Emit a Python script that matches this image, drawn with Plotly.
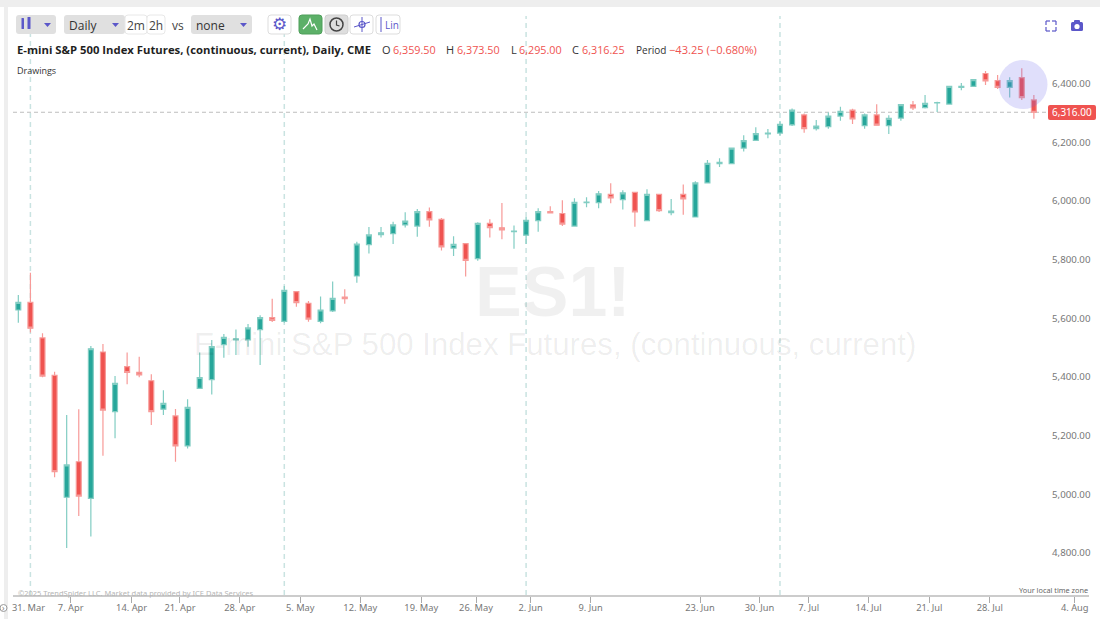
import plotly.graph_objects as go

session = list(range(85))
opens = [5628,5654,5533,5405,4990,5111,4986,5485,5282,5435,5416,5387,5290,5267,5165,5361,5391,5510,5526,5526,5561,5602,5589,
         5691,5651,5589,5625,5672,5744,5851,5885,5888,5918,5914,5963,5937,5839,5854,5803,5923,5908,5895,5883,
         5933,5963,5957,5914,5994,5994,6022,6004,6029,5933,6022,5960,6022,5945,6061,6127,6127,6180,6206,6228,6231,
         6259,6293,6246,6253,6289,6309,6256,6293,6256,6282,6327,6318,6334,6330,6387,6390,6434,6410,6387,6420,6344]
highs = [5679,5755,5549,5418,5270,5290,5505,5512,5403,5483,5469,5409,5355,5291,5324,5483,5526,5546,5562,5580,5610,5666,5710,
         5691,5659,5674,5725,5699,5861,5911,5911,5929,5961,5972,5977,5942,5879,5855,5927,5937,5993,5916,5945,
         5975,5982,6002,6009,6012,6034,6060,6036,6029,6040,6023,6006,6056,6067,6139,6145,6182,6224,6251,6245,6272,
         6315,6298,6276,6301,6321,6314,6298,6329,6292,6330,6340,6361,6338,6391,6402,6415,6443,6429,6421,6452,6361]
lows = [5585,5551,5399,5058,4817,4926,4856,5131,5191,5375,5399,5236,5270,5111,5156,5361,5340,5465,5475,5503,5441,5587,5585,
        5639,5588,5583,5621,5649,5721,5821,5875,5853,5909,5878,5912,5831,5812,5742,5796,5875,5869,5837,5853,
        5895,5959,5914,5914,5978,5975,5992,5971,5912,5933,5962,5951,5953,5945,6060,6115,6127,6168,6205,6213,6223,
        6255,6232,6240,6246,6273,6262,6246,6256,6228,6273,6310,6315,6303,6330,6377,6388,6395,6381,6352,6344,6280]
closes = [5654,5566,5403,5077,5100,4994,5496,5287,5378,5415,5407,5282,5310,5165,5296,5398,5503,5535,5530,5567,5602,5593,5695,
          5653,5597,5628,5668,5667,5853,5884,5891,5918,5931,5963,5935,5843,5852,5797,5923,5909,5901,5897,5934,
          5963,5959,5921,5995,5996,6024,6010,6027,5962,6022,5967,5965,6007,6061,6128,6131,6180,6205,6229,6231,6261,
          6309,6246,6255,6289,6305,6279,6293,6258,6281,6328,6317,6332,6335,6390,6390,6413,6409,6387,6410,6352,6302]

y_ticks = [4800, 5000, 5200, 5400, 5600, 5800, 6000, 6200, 6400]
x_tick_labels = ["7. Apr","14. Apr","21. Apr","28. Apr","5. May","12. May","19. May","26. May",
                 "2. Jun","9. Jun","23. Jun","30. Jun","7. Jul","14. Jul","21. Jul","28. Jul","4. Aug"]
x_tick_sessions = [4.33,9.37,13.37,18.31,23.32,28.29,33.33,37.86,42.37,47.33,56.39,61.31,65.38,70.33,75.35,80.35,87.38]
marker_sessions = [1, 22, 42, 63]

W, H = 1100, 619
PURPLE = "#5b57c9"
RED = "#ef5350"
GREEN = "#26a69a"


def fx(x):
    return x / W


def fy(y):
    return 1 - y / H


shapes = []
annotations = []


def rect(x0, y0, x1, y1, fill, line="rgba(0,0,0,0)", r=3, layer="above"):
    X0, X1, Y0, Y1 = fx(x0), fx(x1), fy(y0), fy(y1)
    rx, ry = r / W, r / H
    p = (f"M{X0+rx},{Y0} L{X1-rx},{Y0} Q{X1},{Y0} {X1},{Y0-ry} L{X1},{Y1+ry} Q{X1},{Y1} {X1-rx},{Y1} "
         f"L{X0+rx},{Y1} Q{X0},{Y1} {X0},{Y1+ry} L{X0},{Y0-ry} Q{X0},{Y0} {X0+rx},{Y0} Z")
    shapes.append(dict(type="path", path=p, xref="paper", yref="paper", fillcolor=fill,
                       line=dict(color=line, width=1), layer=layer))


def poly(points, color=None, stroke=None, width=1.5):
    p = "M" + " L".join(f"{fx(a)},{fy(b)}" for a, b in points)
    if color:
        p += " Z"
    shapes.append(dict(type="path", path=p, xref="paper", yref="paper",
                       fillcolor=color or "rgba(0,0,0,0)",
                       line=dict(color=stroke or "rgba(0,0,0,0)", width=width), layer="above"))


def circle(x, y, r, fill="rgba(0,0,0,0)", stroke="rgba(0,0,0,0)", width=1.5):
    shapes.append(dict(type="circle", xref="paper", yref="paper", x0=fx(x - r), x1=fx(x + r), y0=fy(y + r), y1=fy(y - r),
                       fillcolor=fill, line=dict(color=stroke, width=width), layer="above"))


def text(x, y, s, size=12, color="#333333", anchor="left", family="Open Sans"):
    annotations.append(dict(x=fx(x), y=fy(y), xref="paper", yref="paper", text=s, showarrow=False,
                            xanchor=anchor, yanchor="middle", borderpad=0,
                            font=dict(size=size, color=color, family=family)))


# page frame
rect(0, 0, 1100, 7, "#eeeeee", r=0, layer="below")
rect(4, 7, 8, 619, "#eeeeee", r=0, layer="below")

# month-start markers
for s in marker_sessions:
    shapes.append(dict(type="line", xref="x", yref="paper", x0=s, x1=s, y0=fy(595), y1=fy(16), layer="below",
                       line=dict(color="#c9e3e1", width=1.5, dash="5px,4px")))

# last price line
shapes.append(dict(type="line", xref="paper", yref="y", x0=fx(13), x1=fx(1048), y0=closes[-1], y1=closes[-1],
                   layer="below", line=dict(color="#bdbdbd", width=1, dash="4px,3px")))

# highlight circle
circle(1023, 84.5, 24.5, fill="rgba(98,94,235,0.20)")

# price tag
rect(1048, 105, 1096, 120, RED, r=2)
text(1072, 112.5, "6,316.00", 10, "#ffffff", "center", "Noto Sans")

# toolbar
rect(16, 15, 56, 34, "#e0e0e0")
rect(21.5, 18, 24, 29, PURPLE, r=0.5)
rect(27.5, 17, 30.5, 29, PURPLE, r=0.5)
poly([(44, 23), (51, 23), (47.5, 27)], color=PURPLE)

rect(64, 15, 125, 34, "#e0e0e0")
text(68, 25, "Daily", 12, "#333333")
poly([(112, 23), (119, 23), (115.5, 27)], color=PURPLE)
rect(125, 15, 147, 34, "#ffffff", "#e8e8e8")
text(136, 25, "2m", 12, "#444444", "center")
rect(147, 15, 165, 34, "#ffffff", "#e8e8e8")
text(156, 25, "2h", 12, "#444444", "center")
text(178, 25, "vs", 12, "#444444", "center")
rect(191, 15, 252, 34, "#e0e0e0")
text(195, 25, "none", 12, "#333333")
poly([(240, 23), (247, 23), (243.5, 27)], color=PURPLE)

rect(268, 15, 291, 34, "#ffffff", "#dddddd")
text(279.5, 24, "⚙", 17, PURPLE, "center", "DejaVu Sans")
rect(299, 15, 322, 34, "#5cb068", "#4f9f5b")
poly([(303, 29), (308, 24), (310, 19), (312, 26), (314, 24), (317, 30)], stroke="#ffffff", width=1.2)
rect(325, 15, 348, 34, "#dedede", "#cfcfcf")
circle(336.5, 24.5, 6.5, stroke="#444444", width=1.5)
poly([(336.5, 20.5), (336.5, 25), (339.5, 26)], stroke="#444444", width=1.2)
rect(350, 15, 373, 34, "#ffffff", "#dddddd")
circle(362, 24.5, 3, stroke=PURPLE, width=1.2)
poly([(362, 17), (362, 32)], stroke=PURPLE, width=1)
poly([(354, 27), (370, 22)], stroke=PURPLE, width=1)
rect(376, 15, 400, 34, "#ffffff", "#dddddd")
poly([(381, 17), (381, 32)], stroke=PURPLE, width=1)
text(384, 25, "Lin", 10, PURPLE)

# top-right icons
for a, b, c, d in [(1046, 25, 1046, 21), (1046, 21, 1050, 21), (1052, 21, 1056, 21), (1056, 21, 1056, 25),
                   (1046, 27, 1046, 31), (1046, 31, 1050, 31), (1052, 31, 1056, 31), (1056, 31, 1056, 27)]:
    poly([(a, b), (c, d)], stroke=PURPLE, width=1.2)
rect(1071, 22, 1083, 31, PURPLE, r=1.5)
rect(1074, 20, 1080, 23, PURPLE, r=1)
circle(1077, 26.5, 2.6, fill="#ffffff")

# header
text(16, 50, "<b>E-mini S&amp;P 500 Index Futures, (continuous, current), Daily, CME</b>", 11.3, "#1f1f1f")
for lx, lab, lsize, vx, val, vsize in [(381, "O", 11, 392, "6,359.50", 10.8), (445, "H", 11, 456, "6,373.50", 10.8),
                                       (510, "L", 11, 518, "6,295.00", 10.8), (571, "C", 11, 581, "6,316.25", 10.8),
                                       (635, "Period", 10, 668, "−43.25 (−0.680%)", 11.1)]:
    text(lx, 50, lab, lsize, "#333333")
    text(vx, 50, val, vsize, RED)
text(16, 71, "Drawings", 9, "#333333")

# watermark
text(553, 292, "<b>ES1!</b>", 70, "rgba(0,0,0,0.06)", "center", "Liberation Sans")
text(555, 344, "E-mini S&amp;P 500 Index Futures, (continuous, current)", 31.2, "rgba(0,0,0,0.07)", "center", "Liberation Sans")

# footer
text(17, 593, "©2025 TrendSpider LLC. Market data provided by ICE Data Services", 7.5, "#b5b5b5", "left", "Noto Sans")
text(1089, 590, "Your local time zone", 7.3, "#666666", "right", "Noto Sans")
circle(3.5, 608, 3.5, fill="#ffffff", stroke="#999999", width=1)
text(3.5, 607.5, "›", 8, "#777777", "center", "Noto Sans")
text(28, 607, "31. Mar", 9.3, "#777777", "center", "Noto Sans")

fig = go.Figure(go.Candlestick(
    x=session, open=opens, high=highs, low=lows, close=closes,
    whiskerwidth=0,
    increasing=dict(fillcolor=GREEN, line=dict(color="#82cdc3", width=1.2)),
    decreasing=dict(fillcolor=RED, line=dict(color="#f79a98", width=1.2)),
    hoverinfo="skip", showlegend=False,
))

fig.update_layout(
    width=W, height=H,
    margin=dict(l=0, r=0, t=0, b=0),
    paper_bgcolor="#ffffff", plot_bgcolor="#ffffff",
    shapes=shapes, annotations=annotations,
    showlegend=False,
    boxgap=0.42,
    xaxis=dict(domain=[fx(13), fx(1089)], range=[-0.44, 88.56], rangeslider=dict(visible=False), automargin=False,
               tickmode="array", tickvals=x_tick_sessions, ticktext=x_tick_labels,
               ticks="outside", ticklen=6, tickcolor="#aaaaaa", tickwidth=1, ticklabelstandoff=-3,
               showgrid=False, zeroline=False, showline=True, linecolor="#cccccc", linewidth=2,
               tickfont=dict(family="Noto Sans", size=9.3, color="#777777")),
    yaxis=dict(domain=[fy(595), fy(7)], range=[4656.8, 6660.7], side="right", anchor="free", position=fx(1051),
               automargin=False,
               tickmode="array", tickvals=y_ticks, tickformat=",.2f", ticks="", showgrid=False, zeroline=False,
               showline=False, tickfont=dict(family="Noto Sans", size=9.7, color="#777777")),
)

fig.write_html("out.html", config={"displayModeBar": False},
               post_script="document.body.style.margin='0';document.body.style.overflow='hidden';")
